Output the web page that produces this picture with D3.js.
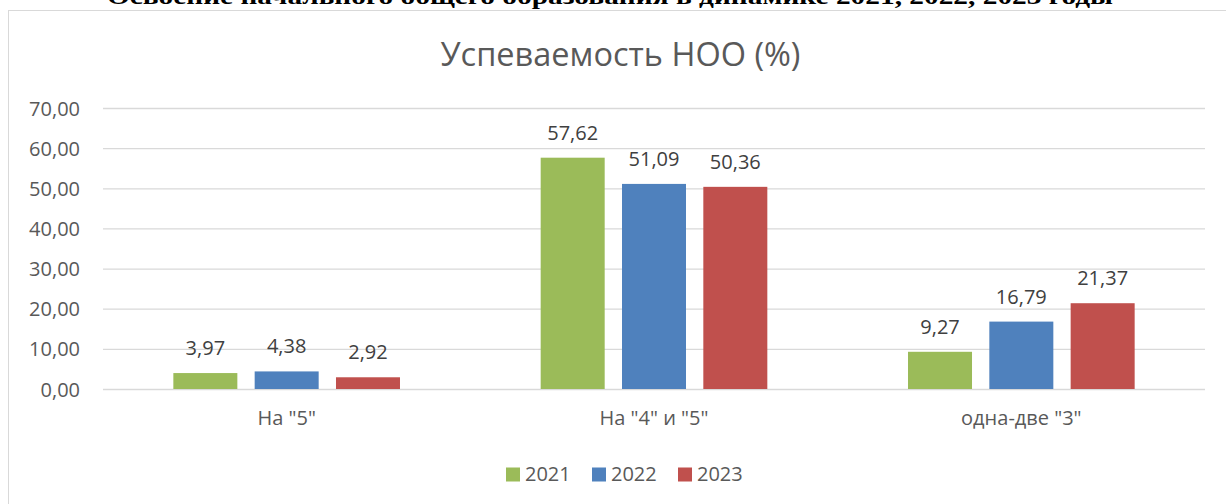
<!DOCTYPE html>
<html><head><meta charset="utf-8">
<script src="https://cdn.jsdelivr.net/npm/d3@7"></script>
<style>body{margin:0;background:#fff}svg{display:block}</style>
</head><body><svg id="c" width="1226" height="504"></svg>
<script>
const categories = ['На "5"', 'На "4" и "5"', 'одна-две "3"'];
const years = ["2021", "2022", "2023"];
const values2021 = [3.97, 57.62, 9.27];
const values2022 = [4.38, 51.09, 16.79];
const values2023 = [2.92, 50.36, 21.37];
const yTicks = [0, 10, 20, 30, 40, 50, 60, 70];
const colors = ["#9BBB59", "#4F81BD", "#C0504D"];
const heading = "Освоение начального общего образования в динамике 2021, 2022, 2023 годы";
const chartTitle = "Успеваемость НОО (%)";

const series = [values2021, values2022, values2023];
const fmt = v => v.toFixed(2).replace(".", ",");
const svg = d3.select("#c");
const font = "'Open Sans', sans-serif";

svg.append("text").attr("x", 107).attr("y", 4)
  .attr("textLength", 1006).attr("lengthAdjust", "spacingAndGlyphs")
  .attr("font-family", "'Liberation Serif', serif").attr("font-weight", "bold")
  .attr("font-size", 24).attr("fill", "#000").text(heading);

svg.append("rect").attr("x", 8.5).attr("y", 10.5).attr("width", 1240).attr("height", 510)
  .attr("fill", "#fff").attr("stroke", "#d9d9d9").attr("stroke-width", 1);

svg.append("text").attr("x", 620.5).attr("y", 66).attr("text-anchor", "middle")
  .attr("font-family", font).attr("font-size", 32.5).attr("fill", "#595959").text(chartTitle);

const x0 = d3.scaleBand().domain(categories).range([103, 1205]).padding(0);
const x1 = d3.scaleBand().domain(years).range([0, x0.bandwidth()]).paddingInner(0.213).paddingOuter(0.865);
const y = d3.scaleLinear().domain([0, 70]).range([389, 108]);

const yAxis = d3.axisLeft(y).tickValues(yTicks).tickSize(-(1205 - 103)).tickFormat(fmt).tickPadding(23);
const ga = svg.append("g").attr("transform", "translate(103,0)").call(yAxis);
ga.select(".domain").remove();
ga.selectAll(".tick line").attr("stroke", "#d9d9d9").attr("stroke-width", 1.3);
ga.selectAll(".tick text").attr("font-family", font).attr("font-size", 20).attr("fill", "#595959").attr("dy", "0.35em");

const xAxis = d3.axisBottom(x0).tickSize(0).tickPadding(22);
const gx = svg.append("g").attr("transform", "translate(0,389)").call(xAxis);
gx.select(".domain").remove();
gx.selectAll(".tick text").attr("font-family", font).attr("font-size", 20).attr("fill", "#595959");

const rows = [];
categories.forEach((c, i) => years.forEach((yr, j) => rows.push({c, yr, j, v: series[j][i]})));

const g = svg.append("g");
g.selectAll("rect").data(rows).enter().append("rect")
  .attr("x", d => x0(d.c) + x1(d.yr)).attr("width", x1.bandwidth())
  .attr("y", d => y(d.v)).attr("height", d => y(0) - y(d.v))
  .attr("fill", d => colors[d.j]);

g.selectAll("text").data(rows).enter().append("text")
  .attr("x", d => x0(d.c) + x1(d.yr) + x1.bandwidth() / 2)
  .attr("y", d => y(d.v) - 18).attr("text-anchor", "middle")
  .attr("font-family", font).attr("font-size", 20).attr("fill", "#404040")
  .text(d => fmt(d.v));

const legX = [506, 592, 678];
const lg = svg.append("g");
years.forEach((yr, j) => {
  lg.append("rect").attr("x", legX[j]).attr("y", 467.5).attr("width", 14).attr("height", 14).attr("fill", colors[j]);
  lg.append("text").attr("x", legX[j] + 19).attr("y", 481).attr("font-family", font)
    .attr("font-size", 20).attr("fill", "#595959").text(yr);
});
</script></body></html>
